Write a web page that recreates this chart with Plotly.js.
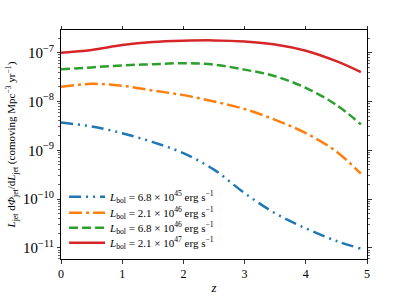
<!DOCTYPE html>
<html>
<head>
<meta charset="utf-8">
<script src="https://cdn.plot.ly/plotly-3.0.1.min.js"></script>
<style>html,body{margin:0;padding:0;background:#fff;}#chart{width:407px;height:305px;}</style>
</head>
<body>
<div id="chart"></div>
<script>
const z = [0, 0.5, 1.0, 1.5, 2.0, 2.5, 3.0, 3.5, 4.0, 4.5, 4.9];
const phi68e45 = [3.7e-9, 3.07e-9, 2.24e-9, 1.47e-9, 8.7e-10, 4.0e-10, 1.32e-10, 5.1e-11, 2.5e-11, 1.38e-11, 9.6e-12];
const phi21e46 = [2.0e-8, 2.3e-8, 2.1e-8, 1.68e-8, 1.35e-8, 1.0e-8, 7.0e-9, 4.2e-9, 2.24e-9, 9.4e-10, 3.3e-10];
const phi68e46 = [4.6e-8, 5.0e-8, 5.5e-8, 5.8e-8, 6.1e-8, 5.7e-8, 4.5e-8, 3.3e-8, 1.9e-8, 8.5e-9, 3.4e-9];
const phi21e47 = [1.0e-7, 1.14e-7, 1.44e-7, 1.66e-7, 1.76e-7, 1.79e-7, 1.70e-7, 1.48e-7, 1.1e-7, 6.7e-8, 4.0e-8];
const seriesNames = [
  '<i>L</i><sub>bol</sub> = 6.8 × 10<sup>45</sup> erg s<sup>−1</sup>',
  '<i>L</i><sub>bol</sub> = 2.1 × 10<sup>46</sup> erg s<sup>−1</sup>',
  '<i>L</i><sub>bol</sub> = 6.8 × 10<sup>46</sup> erg s<sup>−1</sup>',
  '<i>L</i><sub>bol</sub> = 2.1 × 10<sup>47</sup> erg s<sup>−1</sup>'
];
const xTicks = [0, 1, 2, 3, 4, 5];

const series = [phi68e45, phi21e46, phi68e46, phi21e47];
const colors = ['#1f77b4', '#ff7f0e', '#2ca02c', '#d62728'];
const dashes = ['12px,5px,2px,5px,2px,5px', '13px,4px,3px,4px', '9px,4px', 'solid'];
const legendIds = ['legend', 'legend2', 'legend3', 'legend4'];
const legendY = [0.272, 0.202, 0.137, 0.071];

const traces = series.map((s, i) => ({
  x: z, y: s, type: 'scatter', mode: 'lines', name: seriesNames[i], legend: legendIds[i],
  line: {color: colors[i], width: 2.5, dash: dashes[i], shape: 'spline', smoothing: 1}
}));

const font = {family: '"Liberation Serif", "DejaVu Serif", serif', color: '#000'};
const layout = {
  width: 407, height: 305,
  margin: {l: 61, r: 40, t: 30, b: 46, pad: 0},
  paper_bgcolor: '#fff', plot_bgcolor: '#fff',
  font: Object.assign({size: 12}, font),
  showlegend: true,
  xaxis: {
    range: [0, 5], tickvals: xTicks, ticktext: xTicks.map(String),
    showgrid: false, zeroline: false, showline: true, linecolor: '#000', linewidth: 1,
    mirror: 'ticks', ticks: 'outside', ticklen: 3.5, tickwidth: 0.8, tickcolor: '#000',
    tickfont: Object.assign({size: 12}, font),
    title: {text: '<i>z</i>', font: Object.assign({size: 13}, font), standoff: 2}
  },
  yaxis: {
    type: 'log', range: [-11.23, -6.534], dtick: 1, exponentformat: 'power',
    showgrid: false, zeroline: false, showline: true, linecolor: '#000', linewidth: 1,
    mirror: 'ticks', ticks: 'outside', ticklen: 3.5, tickwidth: 0.8, tickcolor: '#000',
    minor: {ticks: 'outside', ticklen: 2, tickwidth: 0.6, tickcolor: '#000', dtick: 'D1', showgrid: false},
    tickfont: Object.assign({size: 12}, font),
    title: {text: '<i>L</i><sub>jet</sub> d<i>Φ</i><sub>jet</sub>/d<i>L</i><sub>jet</sub> (comoving Mpc<sup>−3</sup> yr<sup>−1</sup>)',
            font: Object.assign({size: 11}, font), standoff: 4}
  }
};
legendIds.forEach((id, i) => {
  layout[id] = {x: 0.01, y: legendY[i], xanchor: 'left', yanchor: 'middle',
                bgcolor: 'rgba(0,0,0,0)', borderwidth: 0, itemwidth: 36,
                font: Object.assign({size: 11}, font)};
});

Plotly.newPlot('chart', traces, layout, {displayModeBar: false, staticPlot: true});
</script>
</body>
</html>
